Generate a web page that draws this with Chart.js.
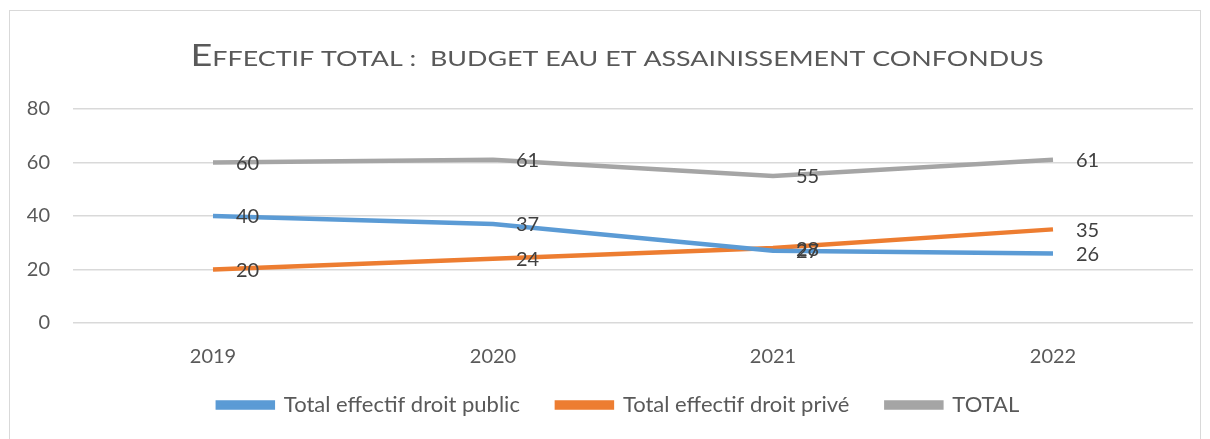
<!DOCTYPE html>
<html>
<head>
<meta charset="utf-8">
<script src="https://cdn.jsdelivr.net/npm/chart.js@4"></script>
<style>
  body { margin: 0; background: #fff; }
  #wrap { width: 1210px; height: 439px; position: relative; }
</style>
</head>
<body>
<div id="wrap"><canvas id="effectifChart" width="1210" height="439"></canvas></div>
<script>
const years = ["2019", "2020", "2021", "2022"];
const droitPublic = [40, 37, 27, 26];
const droitPrive = [20, 24, 28, 35];
const totalEffectif = [60, 61, 55, 61];
const yTicks = [0, 20, 40, 60, 80];

const titleFirst = "E";
const titleRest = "FFECTIF TOTAL :  BUDGET EAU ET ASSAINISSEMENT CONFONDUS";

// frame + small caps title, drawn by hand
const framePlugin = {
    id: "frame",
    afterLayout(chart) {
        // pull the legend up / right a bit, keeps the wide gap between items
        chart.legend.top -= 16;
        chart.legend.bottom -= 16;
        chart.legend.left += 17;
        chart.legend.right += 17;
    },
    beforeDraw(chart) {
        const c = chart.ctx;
        c.save();
        c.fillStyle = "#fff";
        c.fillRect(0, 0, chart.width, chart.height);
        c.strokeStyle = "#d9d9d9";
        c.lineWidth = 1;
        c.strokeRect(9.5, 10.5, 1191, 440);
        c.restore();
    },
    afterDraw(chart) {
        const c = chart.ctx;
        c.save();
        c.fillStyle = "#595959";
        c.textBaseline = "alphabetic";
        const big = "31px Lato";
        const small = "22px Lato";
        c.font = big;
        const w1 = c.measureText(titleFirst).width;
        c.font = small;
        const w2 = c.measureText(titleRest).width;
        const target = 853;
        const sx = target / (w1 + w2);
        c.translate(617 - target / 2, 66);
        c.scale(sx, 1);
        c.font = big;
        c.fillText(titleFirst, 0, 0);
        c.font = small;
        c.fillText(titleRest, w1, 0);
        c.restore();
    }
};

// value labels on the right of each point
const labelPlugin = {
    id: "valueLabels",
    afterDatasetsDraw(chart) {
        const c = chart.ctx;
        c.save();
        c.font = "20px Lato";
        c.fillStyle = "#404040";
        c.textAlign = "left";
        c.textBaseline = "middle";
        chart.data.datasets.forEach((ds, i) => {
            chart.getDatasetMeta(i).data.forEach((pt, j) => {
                c.fillText(ds.data[j], pt.x + 23, pt.y + 1);
            });
        });
        c.restore();
    }
};

new Chart(document.getElementById("effectifChart").getContext("2d"), {
    type: "line",
    data: {
        labels: years,
        datasets: [
            {
                label: "Total effectif droit public",
                data: droitPublic,
                borderColor: "#5b9bd5",
                backgroundColor: "#5b9bd5",
                borderWidth: 4.5,
                pointRadius: 0,
                tension: 0,
            },
            {
                label: "Total effectif droit privé",
                data: droitPrive,
                borderColor: "#ed7d31",
                backgroundColor: "#ed7d31",
                borderWidth: 4.5,
                pointRadius: 0,
                tension: 0,
            },
            {
                label: "TOTAL",
                data: totalEffectif,
                borderColor: "#a5a5a5",
                backgroundColor: "#a5a5a5",
                borderWidth: 4.5,
                pointRadius: 0,
                tension: 0,
            },
        ],
    },
    options: {
        responsive: false,
        animation: false,
        layout: {
            padding: { left: 10, right: 17, top: 109, bottom: 0 },
        },
        plugins: {
            legend: {
                display: true,
                position: "bottom",
                maxHeight: 66,
                labels: {
                    color: "#595959",
                    font: { family: "Lato", size: 22 },
                    boxWidth: 55,
                    boxHeight: 5,
                    padding: 37,
                },
            },
            tooltip: { enabled: false },
            title: { display: false },
        },
        scales: {
            x: {
                offset: true,
                grid: { display: false, drawTicks: false },
                border: { display: false },
                ticks: {
                    color: "#595959",
                    font: { family: "Lato", size: 20 },
                    padding: 22,
                },
                afterFit(scale) { scale.height = 50; },
            },
            y: {
                min: 0,
                max: 80,
                afterBuildTicks(scale) { scale.ticks = yTicks.map((v) => ({ value: v })); },
                grid: { color: "#d9d9d9", lineWidth: 1.5, drawTicks: false },
                border: { display: false },
                ticks: {
                    color: "#595959",
                    font: { family: "Lato", size: 20 },
                    padding: 23,
                },
                afterFit(scale) { scale.width = 63; },
            },
        },
    },
    plugins: [framePlugin, labelPlugin],
});
</script>
</body>
</html>
